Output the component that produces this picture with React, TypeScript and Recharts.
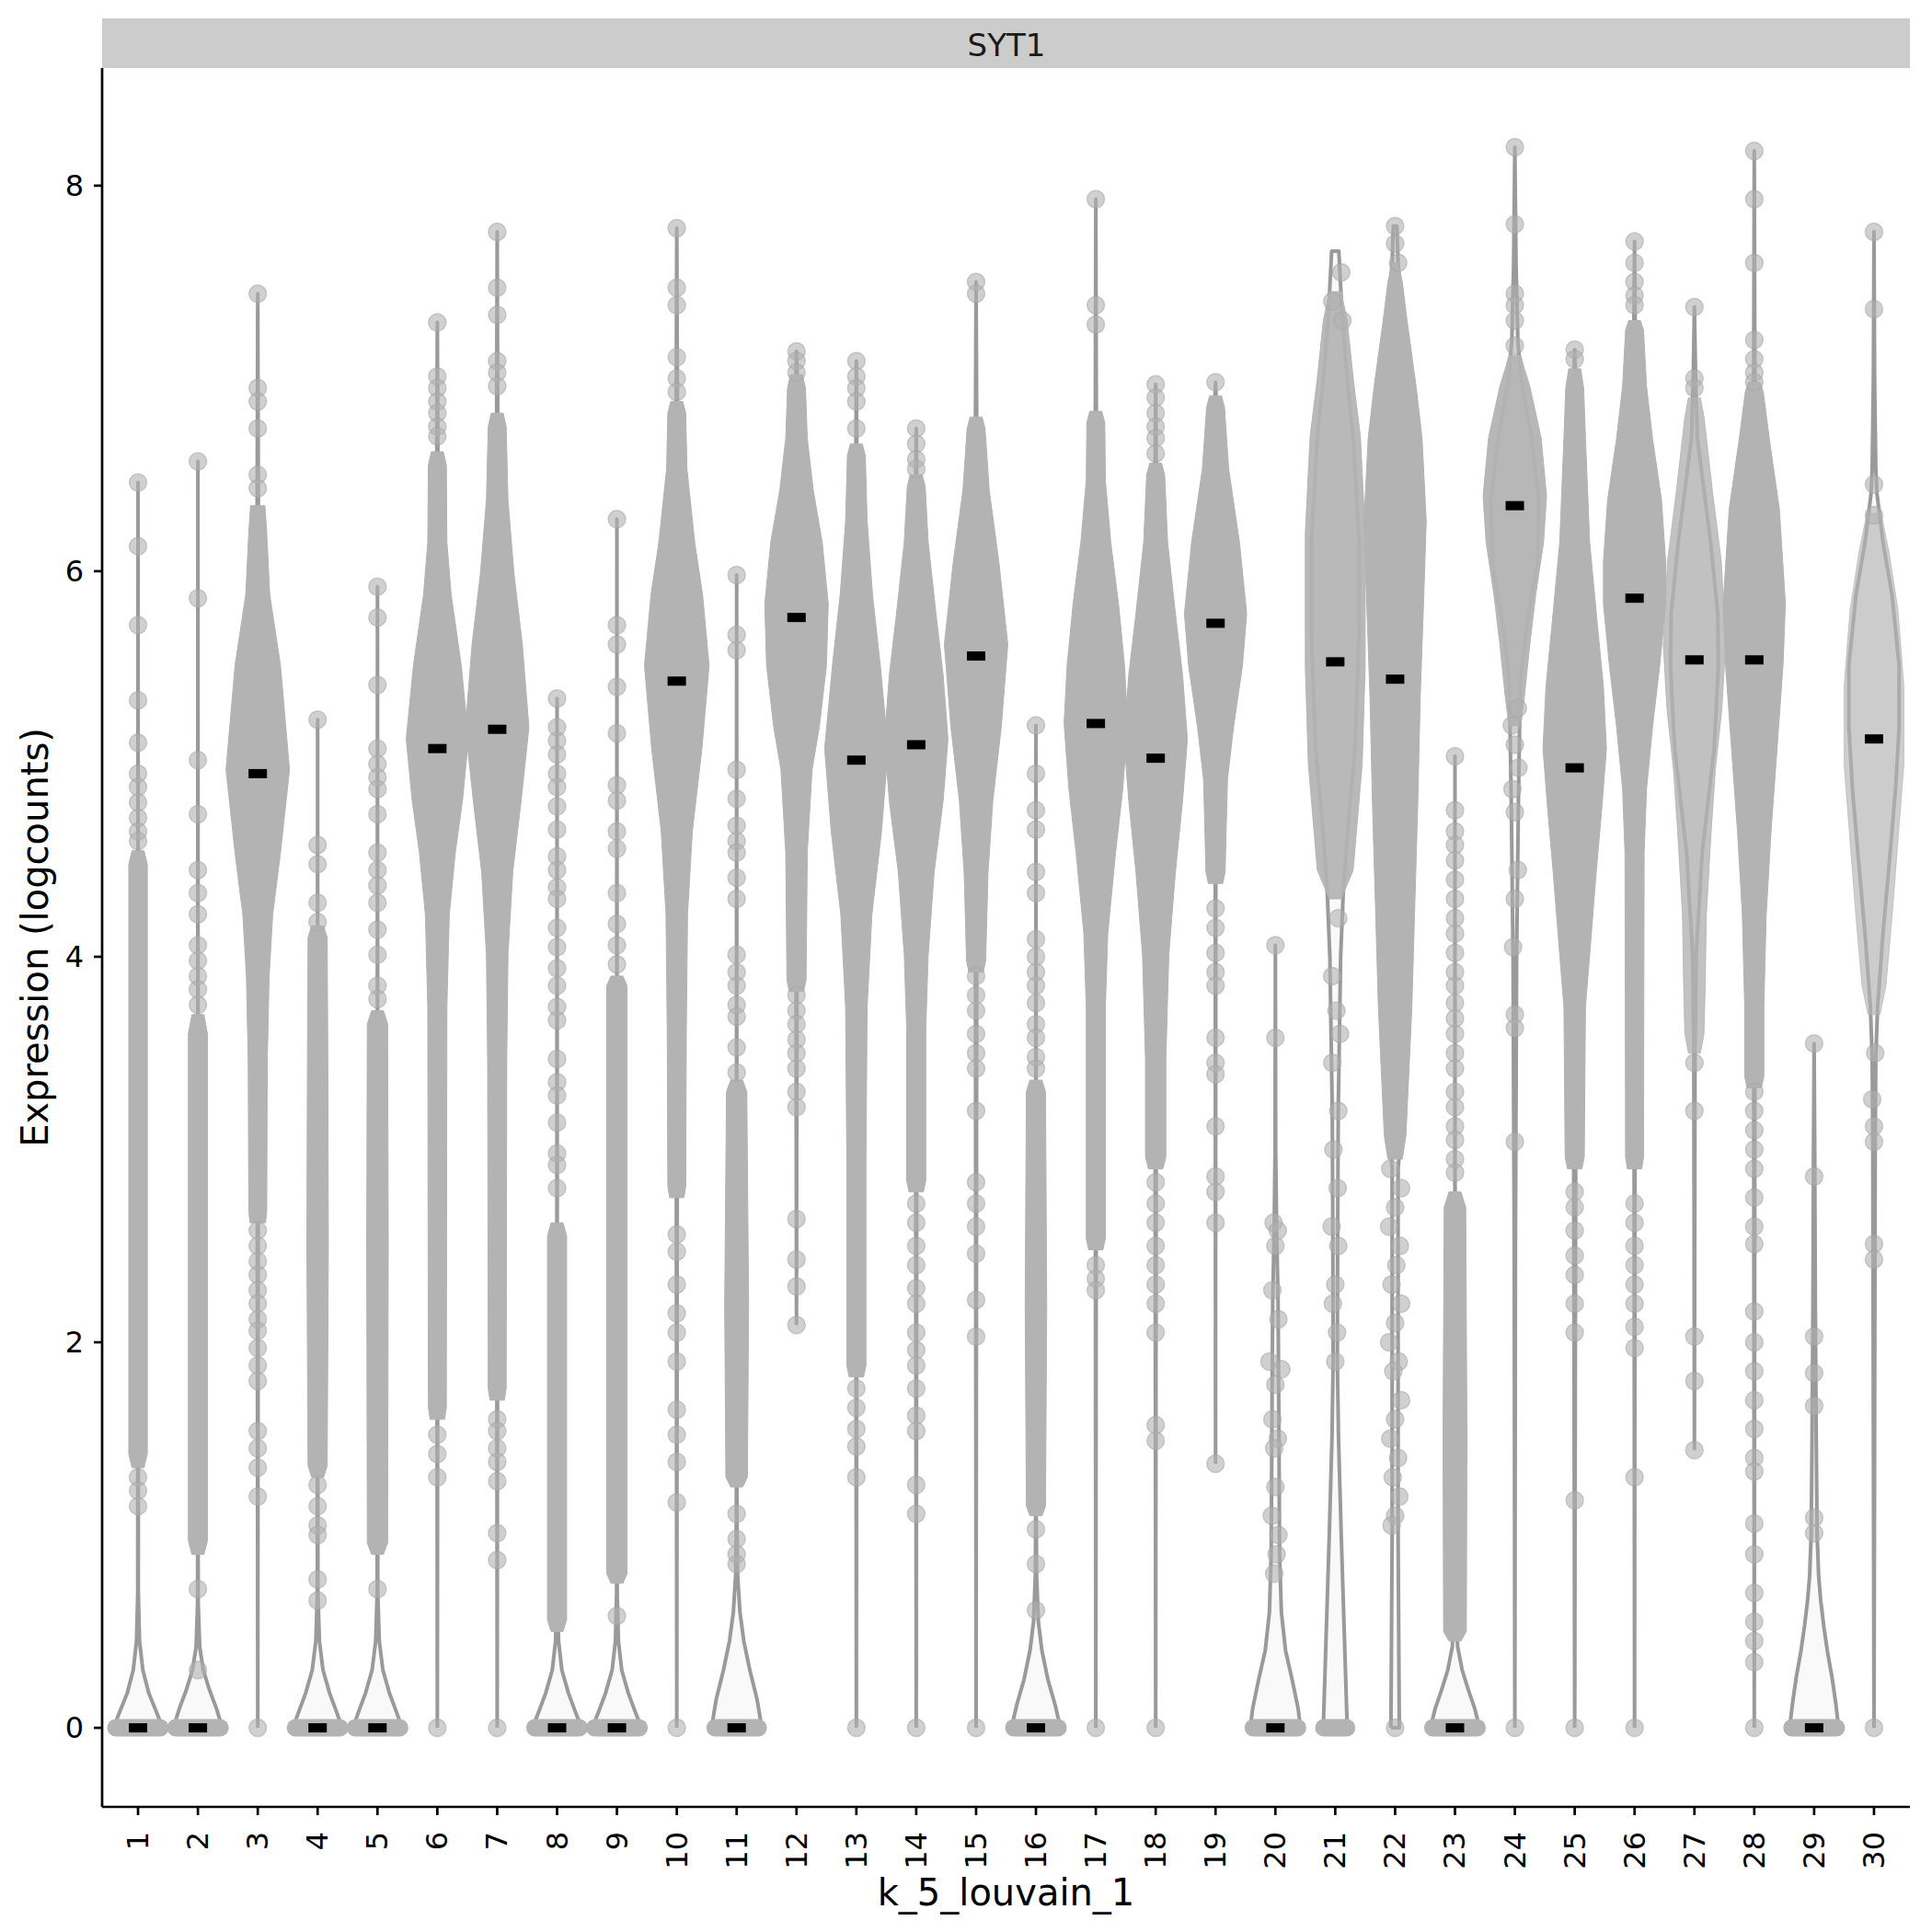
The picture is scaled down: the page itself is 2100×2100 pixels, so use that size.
import React from 'react';
import { ComposedChart, Scatter, XAxis, YAxis, Customized } from 'recharts';

const FONT = 'DejaVu Sans';

// cluster ids on the x axis
const clusters = [1, 2, 3, 4, 5, 6, 7, 8, 9, 10, 11, 12, 13, 14, 15, 16, 17, 18, 19, 20, 21, 22, 23, 24, 25, 26, 27, 28, 29, 30];
const yTicks = [0, 2, 4, 6, 8];

// median logcounts per cluster
const medians = [0, 0, 4.95, 0, 0, 5.08, 5.18, 0, 0, 5.43, 0, 5.76, 5.02, 5.1, 5.56, 0, 5.21, 5.03, 5.73, 0, 5.53, 5.44, 0, 6.34, 4.98, 5.86, 5.54, 5.54, 0, 5.13];

// half spread of the jittered points sitting at zero (0 = only a single point there)
const zeroSpread = [0.37, 0.37, 0, 0.37, 0.37, 0, 0, 0.37, 0.37, 0, 0.36, 0, 0, 0, 0, 0.37, 0, 0, 0, 0.37, 0.19, 0, 0.37, 0, 0, 0, 0, 0, 0.37, 0];

// how solid the point cloud looks
const cloudOpacity = [1, 1, 1, 1, 1, 1, 1, 1, 1, 1, 1, 1, 1, 1, 1, 1, 1, 1, 1, 1, 0.92, 1, 1, 0.95, 1, 1, 0.8, 1, 1, 0.65];

// violin outline: [logcounts, half width] from bottom to top
const violinShapes = [
  [[0, 0.41], [0.08, 0.31], [0.18, 0.18], [0.3, 0.08], [0.45, 0.025], [0.7, 0.005], [6.46, 0]],
  [[0, 0.41], [0.1, 0.31], [0.2, 0.19], [0.3, 0.09], [0.42, 0.03], [0.65, 0.005], [6.57, 0]],
  [[0, 0], [3.5, 0.01], [4.2, 0.12], [4.6, 0.3], [4.97, 0.38], [5.5, 0.25], [5.9, 0.07], [6.34, 0.01], [7.44, 0]],
  [[0, 0.41], [0.08, 0.32], [0.18, 0.2], [0.3, 0.09], [0.45, 0.03], [0.7, 0.005], [5.23, 0]],
  [[0, 0.41], [0.08, 0.32], [0.18, 0.2], [0.3, 0.09], [0.45, 0.03], [0.7, 0.005], [5.92, 0]],
  [[0, 0], [3.8, 0.01], [4.3, 0.1], [4.7, 0.28], [5.1, 0.38], [5.6, 0.24], [6.0, 0.06], [6.5, 0.01], [7.29, 0]],
  [[0, 0], [3.6, 0.01], [4.3, 0.1], [4.8, 0.27], [5.19, 0.38], [5.7, 0.25], [6.1, 0.08], [6.7, 0.01], [7.76, 0]],
  [[0, 0.41], [0.08, 0.31], [0.18, 0.19], [0.3, 0.08], [0.45, 0.025], [0.7, 0.005], [5.34, 0]],
  [[0, 0.41], [0.08, 0.31], [0.18, 0.19], [0.3, 0.08], [0.45, 0.025], [0.7, 0.005], [6.27, 0]],
  [[0, 0], [3.8, 0.01], [4.5, 0.1], [5.0, 0.27], [5.5, 0.38], [6.0, 0.26], [6.4, 0.08], [6.85, 0.01], [7.78, 0]],
  [[0, 0.42], [0.15, 0.34], [0.3, 0.22], [0.45, 0.12], [0.6, 0.055], [0.8, 0.015], [1.1, 0.005], [5.98, 0]],
  [[2.09, 0], [4.4, 0.01], [4.9, 0.1], [5.4, 0.32], [5.85, 0.38], [6.3, 0.2], [6.7, 0.04], [7.14, 0]],
  [[0, 0], [3.4, 0.01], [4.2, 0.1], [4.65, 0.28], [5.08, 0.38], [5.5, 0.26], [5.9, 0.1], [6.5, 0.01], [7.09, 0]],
  [[0, 0], [3.5, 0.01], [4.2, 0.12], [4.8, 0.3], [5.13, 0.38], [5.5, 0.3], [6.0, 0.12], [6.4, 0.01], [6.74, 0]],
  [[0, 0], [3.9, 0.01], [4.6, 0.1], [5.2, 0.28], [5.62, 0.38], [6.05, 0.24], [6.45, 0.06], [6.8, 0.01], [7.5, 0]],
  [[0, 0.41], [0.12, 0.32], [0.25, 0.2], [0.4, 0.1], [0.55, 0.04], [0.8, 0.01], [1.1, 0.005], [5.2, 0]],
  [[0, 0], [3.8, 0.01], [4.5, 0.18], [5.0, 0.33], [5.21, 0.38], [5.6, 0.3], [6.1, 0.1], [6.6, 0.01], [7.93, 0]],
  [[0, 0], [3.5, 0.01], [4.2, 0.12], [4.8, 0.3], [5.13, 0.38], [5.5, 0.3], [6.0, 0.1], [6.5, 0.01], [6.97, 0]],
  [[1.37, 0], [4.5, 0.005], [4.95, 0.06], [5.3, 0.2], [5.75, 0.37], [6.2, 0.24], [6.6, 0.05], [6.98, 0]],
  [[0, 0.42], [0.1, 0.38], [0.25, 0.28], [0.4, 0.17], [0.6, 0.1], [0.9, 0.07], [1.5, 0.06], [2.2, 0.045], [2.6, 0.02], [3.0, 0.005], [4.06, 0]],
  [[0, 0.2], [0.5, 0.15], [1.0, 0.1], [1.5, 0.055], [1.9, 0.035], [2.5, 0.04], [3.2, 0.05], [4.0, 0.09], [4.38, 0.14], [4.7, 0.22], [5.08, 0.33], [5.7, 0.4], [6.15, 0.4], [6.69, 0.3], [6.96, 0.21], [7.3, 0.12], [7.66, 0.06]],
  [[0, 0.07], [1.0, 0.05], [2.9, 0.05], [3.2, 0.13], [3.74, 0.22], [4.28, 0.27], [4.81, 0.31], [5.35, 0.35], [5.88, 0.4], [6.26, 0.4], [6.69, 0.32], [6.96, 0.23], [7.3, 0.12], [7.6, 0.05], [7.79, 0.03]],
  [[0, 0.41], [0.1, 0.33], [0.2, 0.22], [0.3, 0.12], [0.42, 0.045], [0.6, 0.01], [0.8, 0.003], [5.04, 0]],
  [[0, 0], [2.5, 0.01], [4.0, 0.03], [4.8, 0.06], [5.2, 0.08], [5.46, 0.1], [5.72, 0.2], [6.05, 0.38], [6.37, 0.4], [6.69, 0.28], [7.0, 0.1], [7.2, 0.05], [7.6, 0.02], [8.2, 0]],
  [[0, 0], [3.5, 0.02], [4.0, 0.12], [4.6, 0.28], [5.08, 0.38], [5.6, 0.3], [6.2, 0.12], [6.8, 0.03], [7.15, 0]],
  [[0, 0], [4.0, 0.01], [4.8, 0.08], [5.3, 0.25], [5.9, 0.38], [6.4, 0.28], [6.9, 0.06], [7.3, 0.01], [7.71, 0]],
  [[1.44, 0], [3.5, 0.01], [4.01, 0.03], [4.54, 0.13], [5.08, 0.33], [5.51, 0.4], [5.78, 0.39], [6.15, 0.27], [6.69, 0.05], [7.0, 0.02], [7.37, 0]],
  [[0, 0], [3.5, 0.01], [4.2, 0.08], [4.8, 0.2], [5.5, 0.36], [5.83, 0.38], [6.3, 0.28], [6.7, 0.1], [7.0, 0.01], [8.18, 0]],
  [[0, 0.41], [0.13, 0.36], [0.26, 0.3], [0.4, 0.22], [0.53, 0.16], [0.66, 0.11], [0.79, 0.075], [1.0, 0.05], [1.5, 0.035], [2.2, 0.02], [3.0, 0.01], [3.55, 0]],
  [[0, 0], [3.0, 0.02], [3.47, 0.03], [3.74, 0.06], [4.12, 0.15], [4.54, 0.27], [4.87, 0.36], [5.19, 0.42], [5.51, 0.42], [5.88, 0.3], [6.15, 0.15], [6.4, 0.05], [6.53, 0.03], [7.0, 0.01], [7.76, 0]],
];

// dense mass of jittered cells: [logcounts, half width] from bottom to top
const cloudShapes = [
  [[1.35, 0.1], [1.42, 0.155], [4.48, 0.155], [4.55, 0.1]],
  [[0.9, 0.1], [0.97, 0.16], [3.6, 0.16], [3.7, 0.1]],
  [[2.62, 0.13], [2.68, 0.15], [3.47, 0.16], [3.9, 0.19], [4.22, 0.25], [4.54, 0.38], [4.97, 0.53], [5.51, 0.38], [5.88, 0.2], [6.2, 0.15], [6.34, 0.12]],
  [[1.3, 0.1], [1.36, 0.16], [2.5, 0.18], [3.5, 0.17], [4.1, 0.16], [4.16, 0.1]],
  [[0.9, 0.1], [0.96, 0.17], [2.5, 0.18], [3.65, 0.17], [3.72, 0.1]],
  [[1.6, 0.12], [1.66, 0.15], [3.74, 0.16], [4.22, 0.2], [4.54, 0.3], [4.81, 0.42], [5.13, 0.52], [5.51, 0.4], [5.88, 0.23], [6.15, 0.16], [6.55, 0.15], [6.62, 0.1]],
  [[1.7, 0.12], [1.76, 0.15], [3.47, 0.16], [4.01, 0.18], [4.44, 0.26], [4.81, 0.4], [5.19, 0.53], [5.62, 0.42], [5.99, 0.28], [6.37, 0.18], [6.75, 0.15], [6.82, 0.1]],
  [[0.5, 0.1], [0.56, 0.16], [2.55, 0.16], [2.62, 0.1]],
  [[0.75, 0.1], [0.8, 0.17], [3.85, 0.17], [3.9, 0.1]],
  [[2.75, 0.12], [2.81, 0.15], [3.63, 0.16], [4.22, 0.18], [4.65, 0.26], [5.08, 0.42], [5.51, 0.54], [5.88, 0.43], [6.15, 0.3], [6.53, 0.17], [6.82, 0.15], [6.88, 0.1]],
  [[1.25, 0.1], [1.3, 0.18], [2.2, 0.2], [3.3, 0.17], [3.36, 0.1]],
  [[3.82, 0.12], [3.88, 0.16], [4.54, 0.18], [4.97, 0.26], [5.19, 0.38], [5.51, 0.5], [5.83, 0.53], [6.15, 0.43], [6.42, 0.28], [6.69, 0.18], [6.95, 0.15], [7.02, 0.1]],
  [[1.82, 0.12], [1.88, 0.16], [2.94, 0.16], [3.74, 0.18], [4.22, 0.26], [4.65, 0.42], [5.08, 0.53], [5.51, 0.4], [5.88, 0.27], [6.26, 0.18], [6.6, 0.15], [6.66, 0.1]],
  [[2.78, 0.12], [2.84, 0.16], [3.63, 0.16], [4.01, 0.2], [4.44, 0.3], [4.81, 0.45], [5.13, 0.53], [5.46, 0.45], [5.78, 0.33], [6.15, 0.2], [6.44, 0.15], [6.5, 0.1]],
  [[3.92, 0.12], [3.98, 0.16], [4.44, 0.2], [4.81, 0.28], [5.19, 0.42], [5.62, 0.53], [6.05, 0.38], [6.42, 0.22], [6.74, 0.15], [6.8, 0.1]],
  [[1.1, 0.1], [1.15, 0.16], [2.2, 0.18], [3.3, 0.16], [3.36, 0.1]],
  [[2.48, 0.12], [2.54, 0.16], [3.74, 0.16], [4.12, 0.2], [4.54, 0.33], [4.87, 0.45], [5.21, 0.53], [5.51, 0.48], [5.83, 0.38], [6.15, 0.25], [6.47, 0.16], [6.77, 0.15], [6.83, 0.1]],
  [[2.9, 0.12], [2.96, 0.17], [3.47, 0.17], [4.01, 0.22], [4.44, 0.33], [4.81, 0.45], [5.13, 0.53], [5.46, 0.45], [5.78, 0.33], [6.15, 0.2], [6.5, 0.15], [6.56, 0.1]],
  [[4.38, 0.12], [4.44, 0.16], [4.92, 0.2], [5.19, 0.3], [5.51, 0.45], [5.78, 0.52], [6.15, 0.4], [6.53, 0.22], [6.85, 0.15], [6.91, 0.1]],
  [],
  [[4.3, 0.1], [4.45, 0.3], [5.0, 0.45], [5.5, 0.5], [6.2, 0.5], [6.7, 0.42], [7.0, 0.3], [7.3, 0.2], [7.45, 0.1]],
  [[2.95, 0.12], [3.07, 0.18], [3.2, 0.2], [3.74, 0.28], [4.28, 0.33], [4.81, 0.38], [5.35, 0.42], [5.88, 0.48], [6.26, 0.52], [6.69, 0.45], [6.96, 0.35], [7.3, 0.2], [7.5, 0.12], [7.6, 0.05]],
  [[0.45, 0.1], [0.5, 0.19], [1.5, 0.2], [2.7, 0.18], [2.78, 0.1]],
  [[5.2, 0.1], [5.35, 0.16], [5.62, 0.25], [5.88, 0.35], [6.15, 0.48], [6.39, 0.53], [6.69, 0.44], [6.96, 0.25], [7.06, 0.15], [7.12, 0.1]],
  [[2.9, 0.12], [2.96, 0.16], [3.74, 0.18], [4.01, 0.25], [4.44, 0.36], [4.76, 0.45], [5.08, 0.53], [5.4, 0.48], [5.72, 0.38], [6.15, 0.25], [6.69, 0.18], [6.95, 0.15], [7.05, 0.1]],
  [[2.9, 0.12], [2.96, 0.15], [4.54, 0.16], [4.87, 0.2], [5.19, 0.3], [5.51, 0.42], [5.83, 0.52], [6.05, 0.52], [6.37, 0.45], [6.69, 0.3], [6.96, 0.2], [7.25, 0.15], [7.3, 0.1]],
  [[3.5, 0.1], [3.6, 0.16], [3.85, 0.18], [4.22, 0.2], [4.65, 0.28], [4.97, 0.35], [5.29, 0.46], [5.62, 0.52], [6.05, 0.45], [6.42, 0.3], [6.8, 0.16], [6.9, 0.1]],
  [[3.32, 0.12], [3.38, 0.16], [3.74, 0.16], [4.22, 0.2], [4.65, 0.28], [5.08, 0.38], [5.51, 0.48], [5.83, 0.52], [6.32, 0.42], [6.69, 0.25], [6.93, 0.15], [6.98, 0.1]],
  [],
  [[3.7, 0.1], [3.85, 0.2], [4.2, 0.3], [4.6, 0.4], [5.0, 0.5], [5.4, 0.5], [5.8, 0.4], [6.1, 0.25], [6.3, 0.12]],
];

// isolated cells: logcounts, or [logcounts, horizontal jitter]
const outliers: (number | number[])[][] = [
  [6.46, 6.13, 5.72, 5.33, 5.11, 4.95, 4.88, 4.8, 4.72, 4.65, 4.6, 1.3, 1.23, 1.15],
  [6.57, 5.86, 5.02, 4.74, 4.45, 4.33, 4.22, 4.06, 3.98, 3.9, 3.83, 3.75, 0.72, 0.3],
  [7.44, 6.95, 6.88, 6.74, 6.5, 6.43, 2.58, 2.5, 2.42, 2.35, 2.27, 2.2, 2.12, 2.06, 1.97, 1.88, 1.8, 1.54, 1.45, 1.35, 1.2, 0],
  [5.23, 4.58, 4.48, 4.28, 4.18, 1.26, 1.15, 1.05, 1.0, 0.77, 0.66],
  [5.92, 5.76, 5.41, 5.08, 5.0, 4.93, 4.87, 4.74, 4.54, 4.45, 4.37, 4.28, 4.14, 4.01, 3.85, 3.78, 0.72],
  [7.29, 7.01, 6.95, 6.88, 6.82, 6.75, 6.7, 1.52, 1.42, 1.3, 0],
  [7.76, 7.47, 7.33, 7.09, 7.03, 6.96, 1.6, 1.54, 1.45, 1.38, 1.28, 1.01, 0.87, 0],
  [5.34, 5.19, 5.12, 5.05, 4.95, 4.88, 4.78, 4.66, 4.52, 4.45, 4.36, 4.3, 4.15, 4.05, 3.94, 3.85, 3.74, 3.67, 3.47, 3.35, 3.28, 3.14, 2.98, 2.92, 2.8],
  [6.27, 5.72, 5.62, 5.4, 5.16, 4.89, 4.81, 4.65, 4.56, 4.33, 4.17, 4.06, 3.96, 0.58],
  [7.78, 7.47, 7.38, 7.11, 7.0, 6.93, 2.56, 2.47, 2.3, 2.15, 2.05, 1.9, 1.65, 1.52, 1.38, 1.17, 0],
  [5.98, 5.67, 5.59, 4.97, 4.82, 4.68, 4.6, 4.54, 4.41, 4.3, 4.01, 3.92, 3.85, 3.75, 3.69, 3.53, 3.4, 1.11, 0.98, 0.9, 0.85],
  [7.14, 7.09, 7.03, 3.8, 3.72, 3.65, 3.57, 3.5, 3.42, 3.3, 3.22, 2.64, 2.43, 2.29, 2.09],
  [7.09, 7.01, 6.95, 6.88, 6.74, 1.76, 1.66, 1.55, 1.46, 1.3, 0],
  [6.74, 6.66, 6.58, 6.53, 2.72, 2.62, 2.5, 2.4, 2.28, 2.2, 2.05, 1.96, 1.88, 1.76, 1.62, 1.54, 1.26, 1.11, 0],
  [7.5, 7.44, 3.9, 3.8, 3.72, 3.6, 3.5, 3.42, 3.2, 2.83, 2.72, 2.6, 2.46, 2.22, 2.03, 0],
  [5.2, 4.95, 4.76, 4.66, 4.44, 4.33, 4.09, 4.0, 3.92, 3.85, 3.76, 3.65, 3.58, 3.48, 3.42, 1.03, 0.85, 0.61],
  [7.93, 7.38, 7.28, 2.4, 2.33, 2.27, 0],
  [6.97, 6.9, 6.82, 6.75, 6.69, 6.61, 2.83, 2.72, 2.62, 2.5, 2.4, 2.3, 2.2, 2.05, 1.57, 1.49, 0],
  [6.98, 4.25, 4.15, 4.02, 3.92, 3.85, 3.58, 3.45, 3.39, 3.12, 2.86, 2.78, 2.62, 1.37],
  [4.06, 3.58, [2.62, -0.03], [2.58, 0.04], [2.5, 0], [2.27, -0.05], [2.12, 0.05], [1.9, -0.1], [1.86, 0.1], [1.78, 0], [1.6, -0.05], [1.5, 0.04], [1.45, -0.02], [1.25, 0], [1.1, -0.06], [1.0, 0.05], [0.9, 0.02], [0.8, -0.02]],
  [[7.55, 0.1], [7.4, -0.05], [7.3, 0.12], [4.2, 0.05], [3.9, -0.05], [3.72, 0.02], [3.6, 0.08], [3.45, -0.05], [3.2, 0.05], [3.0, -0.03], [2.8, 0.04], [2.6, -0.06], [2.5, 0.05], [2.3, 0], [2.2, -0.04], [2.05, 0.03], [1.9, 0]],
  [7.79, 7.7, [7.6, 0.05], [2.9, -0.08], [2.8, 0.1], [2.7, 0], [2.6, -0.1], [2.5, 0.08], [2.4, 0.02], [2.3, -0.06], [2.2, 0.1], [2.1, 0], [2.0, -0.1], [1.9, 0.06], [1.85, -0.03], [1.7, 0.1], [1.6, 0], [1.5, -0.08], [1.4, 0.05], [1.3, -0.04], [1.2, 0.07], [1.1, 0], [1.05, -0.06], 0],
  [5.04, 4.76, 4.65, 4.58, 4.5, 4.4, 4.3, 4.2, 4.12, 4.02, 3.92, 3.85, 3.76, 3.68, 3.6, 3.5, 3.42, 3.3, 3.22, 3.12, 3.05, 2.95, 2.88],
  [8.2, 7.8, 7.44, 7.38, 7.3, 7.17, [5.29, 0.05], [5.2, -0.05], 5.1, [4.98, 0.06], [4.87, -0.04], 4.75, [4.45, 0.05], 4.3, [4.05, -0.03], 3.7, 3.63, 3.04, 0],
  [7.15, 7.1, 2.78, 2.7, 2.58, 2.45, 2.35, 2.2, 2.05, 1.18, 0],
  [7.71, 7.6, 7.5, 7.43, 7.38, 2.72, 2.62, 2.5, 2.4, 2.3, 2.2, 2.08, 1.97, 1.3, 0],
  [7.37, 7.0, 6.95, 3.45, 3.2, 2.03, 1.8, 1.44],
  [8.18, 7.93, 7.6, 7.2, 7.1, 7.03, 6.98, 3.3, 3.2, 3.1, 3.0, 2.9, 2.75, 2.6, 2.51, 2.16, 2.0, 1.85, 1.7, 1.55, 1.4, 1.33, 1.06, 0.9, 0.7, 0.55, 0.45, 0.34, 0],
  [3.55, 2.86, 2.03, 1.84, 1.67, 1.09, 1.01],
  [7.76, 7.36, 6.45, 6.29, [3.5, 0.02], [3.26, -0.03], 3.12, 3.04, 2.51, 2.43, 0],
];

// closed polygon: up the left side, down the right side
const outline = (c: number, prof: number[][]) => {
  const left = prof.map(([y, w]) => ({ x: c - w, y }));
  const right = [...prof].reverse().map(([y, w]) => ({ x: c + w, y }));
  return [...left, ...right, left[0]];
};

const pointData = outliers.flatMap((list, i) =>
  list.map((v) => (Array.isArray(v) ? { x: clusters[i] + v[1], y: v[0] } : { x: clusters[i], y: v }))
);
const medianData = medians.map((m, i) => ({ x: clusters[i], y: m }));

const NoDot = () => <g />;
const CellDot = (p: any) => (
  <circle cx={p.cx} cy={p.cy} r={9.5} fill="#b0b0b0" fillOpacity={0.6} stroke="#a6a6a6" strokeOpacity={0.5} strokeWidth={1.5} />
);
const MedianMark = (p: any) => <rect x={p.cx - 10} y={p.cy - 5} width={20} height={10} fill="#000" />;

const XTick = (p: any) => (
  <text
    transform={`translate(${p.x},${p.y}) rotate(-90)`}
    textAnchor="end"
    dominantBaseline="central"
    fontSize={32}
    fontFamily={FONT}
    fill="#000"
  >
    {p.payload.value}
  </text>
);

const Decor = () => (
  <g fontFamily={FONT}>
    <rect x={111} y={20} width={1965} height={54} fill="#cccccc" />
    <text x={1094} y={61} textAnchor="middle" fontSize={34} fill="#1a1a1a">
      SYT1
    </text>
    <text transform="translate(52,1019) rotate(-90)" textAnchor="middle" fontSize={40} fill="#000">
      Expression (logcounts)
    </text>
    <text x={1093.5} y={2071} textAnchor="middle" fontSize={40} fill="#000">
      k_5_louvain_1
    </text>
  </g>
);

export default function App() {
  return (
    <div style={{ position: 'absolute', left: 0, top: 0, width: 2100, height: 2100, background: '#fff', fontFamily: FONT }}>
      <ComposedChart width={2100} height={2100} margin={{ top: 74, right: 24, bottom: 56, left: 0 }}>
        <XAxis
          type="number"
          dataKey="x"
          domain={[0.4, 30.6]}
          ticks={clusters}
          interval={0}
          allowDataOverflow
          height={80}
          tickSize={9}
          tickMargin={18}
          tick={<XTick />}
          tickLine={{ stroke: '#000', strokeWidth: 2.7 }}
          axisLine={{ stroke: '#000', strokeWidth: 2.7 }}
        />
        <YAxis
          type="number"
          dataKey="y"
          domain={[-0.41, 8.61]}
          ticks={yTicks}
          allowDataOverflow
          width={111}
          tickSize={9}
          tickMargin={11}
          tick={{ fontSize: 32, fill: '#000', fontFamily: FONT }}
          tickLine={{ stroke: '#000', strokeWidth: 2.7 }}
          axisLine={{ stroke: '#000', strokeWidth: 2.7 }}
        />
        {violinShapes.map((prof, i) => (
          <Scatter
            key={`violin-${i}`}
            data={outline(clusters[i], prof)}
            shape={<NoDot />}
            line={{ stroke: '#9a9a9a', strokeWidth: 4, fill: '#f9f9f9', strokeLinejoin: 'round' }}
            isAnimationActive={false}
          />
        ))}
        {cloudShapes.map((prof, i) =>
          prof.length ? (
            <Scatter
              key={`cloud-${i}`}
              data={outline(clusters[i], prof)}
              shape={<NoDot />}
              line={{ stroke: '#b3b3b3', strokeWidth: 1, fill: '#b3b3b3', fillOpacity: cloudOpacity[i], strokeOpacity: cloudOpacity[i] }}
              isAnimationActive={false}
            />
          ) : null
        )}
        {zeroSpread.map((s, i) =>
          s > 0 ? (
            <Scatter
              key={`zero-${i}`}
              data={[{ x: clusters[i] - s, y: 0 }, { x: clusters[i] + s, y: 0 }]}
              shape={<NoDot />}
              line={{ stroke: '#b3b3b3', strokeWidth: 19, strokeLinecap: 'round' }}
              isAnimationActive={false}
            />
          ) : null
        )}
        <Scatter data={pointData} shape={<CellDot />} isAnimationActive={false} />
        <Scatter data={medianData} shape={<MedianMark />} isAnimationActive={false} />
        <Customized component={Decor} />
      </ComposedChart>
    </div>
  );
}
